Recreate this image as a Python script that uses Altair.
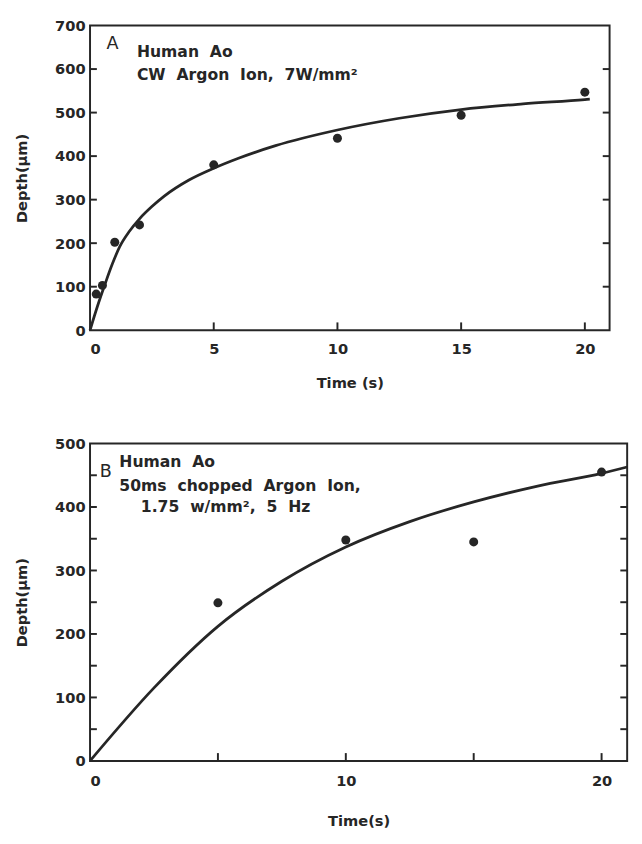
import altair as alt
import pandas as pd

# ---------------- Panel A data ----------------
a_time = [0.25, 0.5, 1, 2, 5, 10, 15, 20]
a_depth = [83, 103, 202, 242, 380, 441, 494, 547]
a_fit_time = [0, 0.3, 0.6, 0.9, 1.2, 1.6, 2, 2.5, 3, 4, 5, 6, 7.5, 10, 12.5, 15, 17.5, 20, 20.2]
a_fit_depth = [0, 55, 105, 152, 192, 228, 256, 284, 308, 345, 372, 395, 424, 460, 487, 507, 520, 530, 531]
a_x_labels = [0, 5, 10, 15, 20]
a_y_labels = [0, 100, 200, 300, 400, 500, 600, 700]
a_x_ticks = [5, 10, 15, 20]
a_y_ticks = [100, 200, 300, 400, 500, 600]
a_lines = ["Human\u00a0\u00a0Ao", "CW\u00a0\u00a0Argon\u00a0\u00a0Ion,\u00a0\u00a07W/mm\u00b2"]

# ---------------- Panel B data ----------------
b_time = [5, 10, 15, 20]
b_depth = [249, 348, 345, 455]
b_fit_time = [0, 2.5, 5, 7.5, 10, 12.5, 15, 17.5, 20, 21]
b_fit_depth = [0, 115, 212, 283, 337, 377, 408, 433, 453, 463]
b_x_labels = [0, 10, 20]
b_y_labels = [0, 100, 200, 300, 400, 500]
b_x_ticks = [5, 10, 15, 20]
b_y_ticks = [50, 100, 150, 200, 250, 300, 350, 400, 450]
b_lines = ["Human\u00a0\u00a0Ao", "50ms\u00a0\u00a0chopped\u00a0\u00a0Argon\u00a0\u00a0Ion,", "1.75\u00a0\u00a0w/mm\u00b2,\u00a0\u00a05\u00a0\u00a0Hz"]

INK = "#262626"
FONT = "DejaVu Sans"


def panel(times, depths, fit_t, fit_d, xlab, ylab, xt, yt, xmax, ymax, W, H,
          letter, letter_pos, lines, line_pos, ytitle, xtitle, xlabpad, xtitlepad):
    xs = alt.Scale(domain=[0, xmax], nice=False, zero=True)
    ys = alt.Scale(domain=[0, ymax], nice=False)
    x_axis = alt.Axis(values=xlab, title=xtitle, labelPadding=xlabpad, titlePadding=xtitlepad,
                      format="d")
    y_axis = alt.Axis(values=ylab, title=ytitle, labelPadding=5, titlePadding=26, format="d")

    def X(f):
        return alt.X(f, scale=xs, axis=x_axis)

    def Y(f):
        return alt.Y(f, scale=ys, axis=y_axis)

    fit = alt.Chart(pd.DataFrame({"t": fit_t, "d": fit_d})).mark_line(
        color=INK, strokeWidth=2.8, interpolate="monotone"
    ).encode(x=X("t:Q"), y=Y("d:Q"))

    pts = alt.Chart(pd.DataFrame({"t": times, "d": depths})).mark_circle(
        color=INK, opacity=1, size=85
    ).encode(x=X("t:Q"), y=Y("d:Q"))

    ydf = pd.DataFrame({"d": yt})
    tl = alt.Chart(ydf).mark_rule(color=INK, strokeWidth=2).encode(
        y=Y("d:Q"), x=alt.value(0), x2=alt.value(7))
    tr = alt.Chart(ydf).mark_rule(color=INK, strokeWidth=2).encode(
        y=Y("d:Q"), x=alt.value(W - 7), x2=alt.value(W))
    tb = alt.Chart(pd.DataFrame({"t": xt})).mark_rule(color=INK, strokeWidth=2).encode(
        x=X("t:Q"), y=alt.value(H), y2=alt.value(H - 8))

    let = alt.Chart(pd.DataFrame({"s": [letter]})).mark_text(
        font=FONT, fontSize=18, color=INK, align="center", baseline="middle"
    ).encode(text="s:N", x=alt.value(letter_pos[0]), y=alt.value(letter_pos[1]))

    txt_layers = []
    for i, line in enumerate(lines):
        lx, ly = line_pos[i]
        txt_layers.append(
            alt.Chart(pd.DataFrame({"s": [line]})).mark_text(
                font=FONT, fontSize=16, fontWeight="bold", color=INK, align="left", baseline="middle"
            ).encode(text="s:N", x=alt.value(lx), y=alt.value(ly))
        )

    return alt.layer(fit, pts, tl, tr, tb, let, *txt_layers).properties(width=W, height=H)


panelA = panel(a_time, a_depth, a_fit_time, a_fit_depth, a_x_labels, a_y_labels, a_x_ticks, a_y_ticks,
               21, 700, 532, 312, "A", (23, 19), a_lines, [(48, 27), (48, 51)],
               "Depth(\u03bcm)", "Time (s)", 12, 20)

panelB = panel(b_time, b_depth, b_fit_time, b_fit_depth, b_x_labels, b_y_labels, b_x_ticks, b_y_ticks,
               21, 500, 550, 325, "B", (16, 29), b_lines, [(30, 19), (30, 44), (52, 65)],
               "Depth(\u03bcm)", "Time(s)", 13, 26)

chart = alt.vconcat(panelA, panelB, spacing=45).properties(
    padding={"left": 5, "top": 0, "right": 0, "bottom": 0},
    background="white",
).configure_view(
    stroke=INK, strokeWidth=2
).configure_axis(
    domain=False, ticks=False, tickSize=0, grid=False,
    labelFont=FONT, labelFontSize=15, labelFontWeight="bold", labelColor=INK,
    titleFont=FONT, titleFontSize=15, titleFontWeight="bold", titleColor=INK,
)

chart.save("out.html", embed_options={"renderer": "svg", "actions": False})
